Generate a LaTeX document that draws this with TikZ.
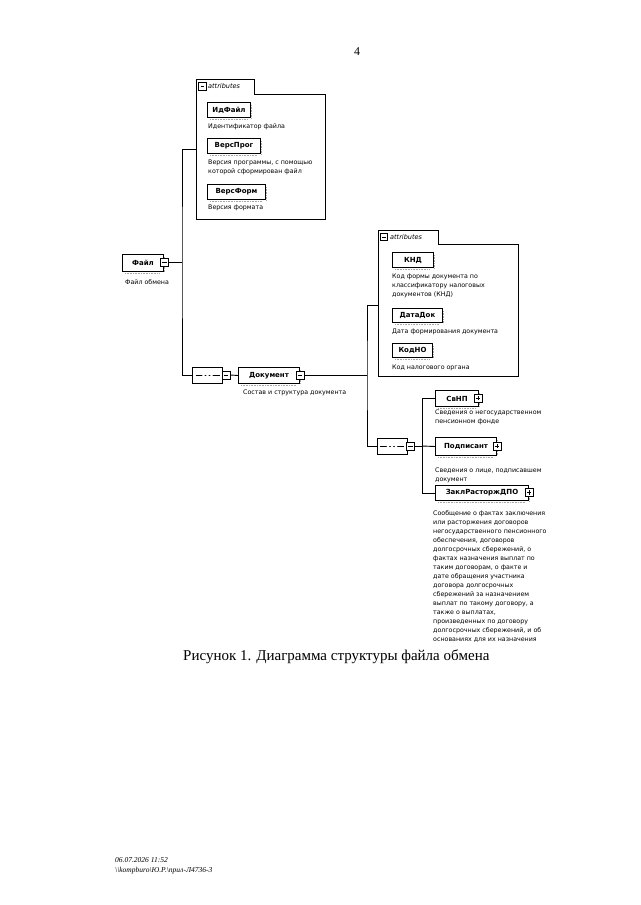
\documentclass[tikz,border=0pt]{standalone}
\usepackage{fontspec}
\setmainfont{Liberation Serif}
\newfontfamily\dvs{DejaVu Sans}
\usetikzlibrary{shapes.misc}
\tikzset{
 conn/.style={line width=0.9pt},
 elem/.style={draw, line width=1pt, fill=white, font=\dvs\bfseries\fontsize{7}{8}\selectfont, inner sep=0pt, anchor=north west},
 desc/.style={font=\dvs\fontsize{6.3}{9}\selectfont, align=left, anchor=north west, inner sep=0pt},
 shadeline/.style={gray!70, line width=0.8pt, dash pattern=on 1pt off 0.6pt},
 attrbox/.style={draw, line width=0.8pt},
 attrlbl/.style={font=\dvs\itshape\fontsize{6.5}{8}\selectfont, anchor=west, inner sep=0pt},
 symbox/.style={draw, fill=white, minimum size=8pt, inner sep=0pt, line width=0.6pt},
 minusbox/.style={symbox, path picture={\draw[line width=0.6pt] ([xshift=1.8pt]path picture bounding box.west) -- ([xshift=-1.8pt]path picture bounding box.east);}},
 plusbox/.style={symbox, path picture={\draw[line width=0.6pt] ([xshift=1.8pt]path picture bounding box.west) -- ([xshift=-1.8pt]path picture bounding box.east); \draw[line width=0.6pt] ([yshift=-1.8pt]path picture bounding box.north) -- ([yshift=1.8pt]path picture bounding box.south);}},
 seqbox/.style={chamfered rectangle, chamfered rectangle xsep=4pt, draw, line width=0.8pt, fill=white, minimum width=30pt, minimum height=16pt, inner sep=0pt,
   path picture={\draw[line width=0.6pt] ([xshift=3pt]path picture bounding box.west) -- ([xshift=-3pt]path picture bounding box.east);
     \fill ([xshift=-4pt]path picture bounding box.center) circle (1.5pt);
     \fill (path picture bounding box.center) circle (1.5pt);
     \fill ([xshift=4pt]path picture bounding box.center) circle (1.5pt);}},
}
\newcommand\ebox[6]{%
 \draw[shadeline] (#2+3,#5+2.2) -- (#4-3,#5+2.2);
 \draw[shadeline] (#4+1.8,#3+3) -- (#4+1.8,#5+1);
 \node[elem, minimum width={#4-#2}, minimum height={#5-#3}] (#1) at (#2,#3) {#6};}
\begin{document}
\begin{tikzpicture}[x=1pt, y=-1pt]
\fill[white] (0,0) rectangle (640,905);
\useasboundingbox (0,0) rectangle (640,905);

% page number
\node[font=\fontsize{12}{14}\selectfont] (pg) at (357,52) {4};

% attributes box 1
\draw[attrbox, fill=white] (196,219) -- (196,79) -- (254,79) -- (254,94) -- (325,94) -- (325,219) -- cycle;
\node[minusbox, minimum size=7.5pt] (a1m) at (202.5,86.5) {};
\node[attrlbl] (a1l) at (208,86.5) {attributes};
\coordinate (a1in) at (196,149);

\ebox{idf}{207}{102}{250}{117}{ИдФайл}
\node[desc] (didf) at (208,124) {Идентификатор файла};
\ebox{vprog}{207}{138}{260}{153}{ВерсПрог}
\node[desc] (dvprog) at (208,160) {Версия программы, с помощью\\которой сформирован файл};
\ebox{vform}{207}{184}{265}{199}{ВерсФорм}
\node[desc] (dvform) at (208,205) {Версия формата};

% root element
\ebox{fail}{122}{254}{163}{271}{Файл}
\node[minusbox] (fsym) at (164.5,262.5) {};
\node[desc] (dfail) at (125,279) {Файл обмена};

% sequence 1 and Документ
\node[seqbox] (seq1) at (207.5,375) {};
\node[minusbox] (s1sym) at (226,375) {};
\ebox{doc}{238}{367}{299}{383}{Документ}
\node[minusbox] (dsym) at (300,375) {};
\node[desc] (ddoc) at (243,390) {Состав и структура документа};

\coordinate (b1) at (182,262.5);
\draw[conn] (fsym.east) -- (b1);
\draw[conn] (a1in) -| (b1) |- (seq1.west);
\draw[conn] (s1sym.east) -- (doc.west);

% attributes box 2
\draw[attrbox, fill=white] (378,376) -- (378,230) -- (438,230) -- (438,244) -- (518,244) -- (518,376) -- cycle;
\node[minusbox, minimum size=7.5pt] (a2m) at (384,237) {};
\node[attrlbl] (a2l) at (390,237) {attributes};
\coordinate (a2in) at (378,305);

\ebox{knd}{392}{252}{433}{267}{КНД}
\node[desc] (dknd) at (392,274) {Код формы документа по\\классификатору налоговых\\документов (КНД)};
\ebox{datadok}{392}{308}{442}{322}{ДатаДок}
\node[desc] (ddatadok) at (392,329) {Дата формирования документа};
\ebox{kodno}{392}{343}{432}{357}{КодНО}
\node[desc] (dkodno) at (392,365) {Код налогового органа};

% sequence 2
\node[seqbox] (seq2) at (392,446) {};
\node[minusbox] (s2sym) at (410.5,446) {};

\coordinate (b2) at (367,375);
\draw[conn] (dsym.east) -- (b2);
\draw[conn] (a2in) -| (b2) |- (seq2.west);

\ebox{svnp}{435}{390}{478}{406}{СвНП}
\node[plusbox] (svsym) at (478,398) {};
\node[desc] (dsvnp) at (435,410) {Сведения о негосударственном\\пенсионном фонде};
\ebox{podp}{435}{437}{496}{455}{Подписант}
\node[plusbox] (posym) at (497,446) {};
\node[desc] (dpodp) at (435,468) {Сведения о лице, подписавшем\\документ};
\ebox{zakl}{435}{485}{528}{500}{ЗаклРасторжДПО}
\node[plusbox] (zasym) at (529,492.5) {};
\node[desc] (dzakl) at (433,510) {Сообщение о фактах заключения\\или расторжения договоров\\негосударственного пенсионного\\обеспечения, договоров\\долгосрочных сбережений, о\\фактах назначения выплат по\\таким договорам, о факте и\\дате обращения участника\\договора долгосрочных\\сбережений за назначением\\выплат по такому договору, а\\также о выплатах,\\произведенных по договору\\долгосрочных сбережений, и об\\основаниях для их назначения};

\coordinate (b3) at (422,446);
\draw[conn] (s2sym.east) -- (b3);
\draw[conn] (svnp.west) -| (b3);
\draw[conn] (zakl.west) -| (b3);
\draw[conn] (b3) -- (podp.west);

% caption
\node[font=\fontsize{15}{18}\selectfont, anchor=base west, inner sep=0pt] (cap) at (183,660) {Рисунок 1. Диаграмма структуры файла обмена};

% footer
\node[font=\itshape\fontsize{7.5}{9}\selectfont, anchor=base west, inner sep=0pt] (f1) at (115,862) {06.07.2026 11:52};
\node[font=\itshape\fontsize{7.5}{9}\selectfont, anchor=base west, inner sep=0pt] (f2) at (115,872) {\textbackslash\textbackslash kompburo\textbackslash Ю.Р.\textbackslash прил-Л4736-3};
\end{tikzpicture}
\end{document}
